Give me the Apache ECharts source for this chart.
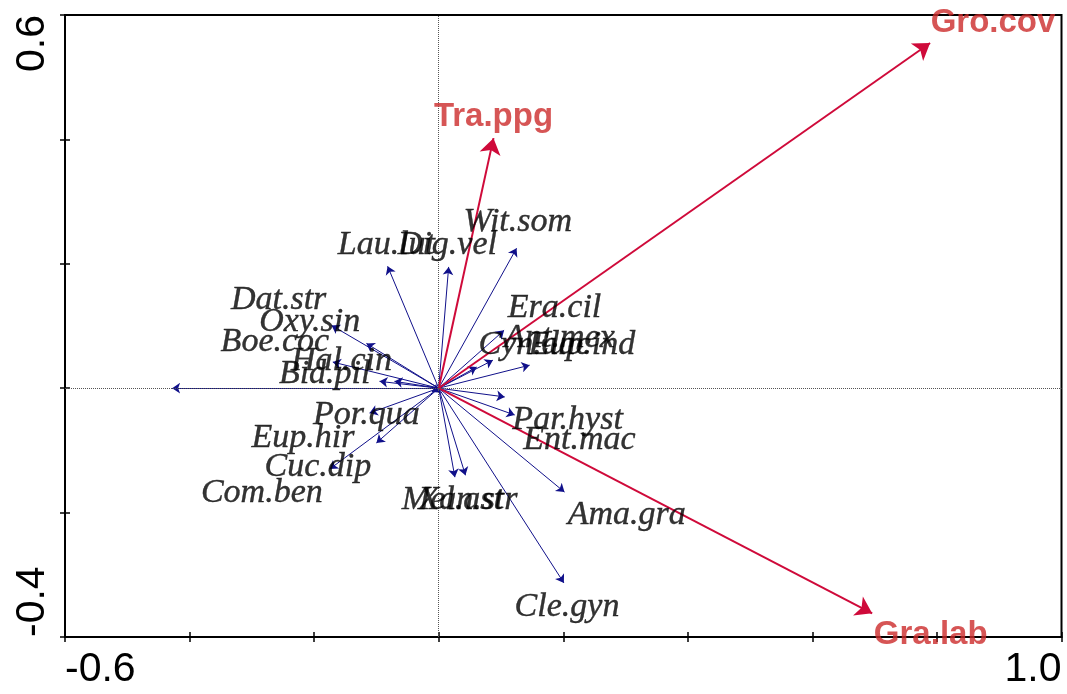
<!DOCTYPE html>
<html>
<head>
<meta charset="utf-8">
<script src="https://cdn.jsdelivr.net/npm/echarts@6/dist/echarts.min.js"></script>
<style>
html,body{margin:0;padding:0;background:#fff;}
#chart{width:1067px;height:694px;}
</style>
</head>
<body>
<div id="chart"></div>
<script>
// Species arrow tips (biplot scores)
const speciesX = [-0.172, -0.116, -0.170, -0.095, -0.071, -0.428, -0.082, 0.016, 0.125,
                  0.146, 0.087, 0.061, 0.105, 0.106, 0.122, 0.202, 0.201, 0.026, 0.043,
                  -0.111, -0.100, -0.175, -0.011];
const speciesY = [0.101, 0.072, 0.042, 0.011, 0.011, 0.000, 0.196, 0.195, 0.225,
                  0.037, 0.045, 0.034, 0.093, -0.014, -0.043, -0.167, -0.313, -0.143, -0.140,
                  -0.040, -0.088, -0.130, -0.006];
// Species labels and where they sit
const speciesNames = ['Dat.str','Oxy.sin','Boe.coc','Hal.cin','Bid.pil','Lau.lut','Dig.vel','Wit.som',
                      'Era.cil','Ant.mex','Cyn.dac','Eup.ind','Par.hyst','Ent.mac','Ama.gra','Cle.gyn',
                      'Mel.ast','Xan.str','Por.qua','Eup.hir','Cuc.dip','Com.ben'];
const speciesLabelX = [-0.257, -0.207, -0.263, -0.156, -0.183, -0.084, 0.014, 0.127,
                       0.186, 0.194, 0.154, 0.230, 0.207, 0.226, 0.302, 0.206,
                       0.022, 0.047, -0.116, -0.218, -0.194, -0.284];
const speciesLabelY = [0.141, 0.106, 0.074, 0.043, 0.023, 0.230, 0.230, 0.267,
                       0.129, 0.080, 0.069, 0.069, -0.051, -0.084, -0.204, -0.352,
                       -0.180, -0.180, -0.043, -0.080, -0.127, -0.169];
// Environmental variables
const envNames = ['Gro.cov','Tra.ppg','Gra.lab'];
const envX = [0.789, 0.088, 0.696];
const envY = [0.555, 0.402, -0.362];
const envLabelX = [0.890, 0.088, 0.790];
const envLabelY = [0.588, 0.436, -0.396];
// Axis tick labels (only extremes are labelled)
const xTickValues = [-0.6, 1.0];
const xTickLabels = ['-0.6', '1.0'];
const yTickValues = [-0.4, 0.6];
const yTickLabels = ['-0.4', '0.6'];

function tickFmt(values, labels) {
  return function (v) {
    for (let i = 0; i < values.length; i++) {
      if (Math.abs(v - values[i]) < 1e-6) return labels[i];
    }
    return '';
  };
}

const chart = echarts.init(document.getElementById('chart'), null, {renderer: 'canvas'});
const axisBase = {
  type: 'value', interval: 0.2,
  splitLine: {show: false}
};
const option = {
  animation: false,
  backgroundColor: '#fff',
  grid: {left: 65, right: 5.5, top: 15, bottom: 57, show: true, borderColor: '#000', borderWidth: 2},
  xAxis: [
    Object.assign({}, axisBase, {
      min: -0.6, max: 1.0, position: 'bottom',
      axisLine: {show: true, onZero: false, lineStyle: {color: '#000', width: 2}},
      axisTick: {show: true, length: 5, lineStyle: {color: '#000', width: 1.5}},
      axisLabel: {show: true, formatter: tickFmt(xTickValues, xTickLabels), color: '#000',
        fontFamily: 'Liberation Sans', fontSize: 41, margin: 12,
        alignMinLabel: 'left', alignMaxLabel: 'right', showMinLabel: true, showMaxLabel: true}
    }),
    Object.assign({}, axisBase, {
      min: -0.6, max: 1.0, position: 'bottom',
      axisLine: {show: false, onZero: false},
      axisTick: {show: true, inside: true, length: 5, lineStyle: {color: '#000', width: 1.5}},
      axisLabel: {show: false}
    })
  ],
  yAxis: [
    Object.assign({}, axisBase, {
      min: -0.4, max: 0.6, position: 'left',
      axisLine: {show: true, onZero: false, lineStyle: {color: '#000', width: 2}},
      axisTick: {show: true, length: 5, lineStyle: {color: '#000', width: 1.5}},
      axisLabel: {show: true, formatter: tickFmt(yTickValues, yTickLabels), color: '#000',
        fontFamily: 'Liberation Sans', fontSize: 41, margin: 12, rotate: 90,
        alignMinLabel: 'left', alignMaxLabel: 'right', showMinLabel: true, showMaxLabel: true}
    }),
    Object.assign({}, axisBase, {
      min: -0.4, max: 0.6, position: 'left',
      axisLine: {show: false, onZero: false},
      axisTick: {show: true, inside: true, length: 5, lineStyle: {color: '#000', width: 1.5}},
      axisLabel: {show: false}
    })
  ],
  series: [
    {
      type: 'line', data: [], silent: true,
      markLine: {
        silent: true, symbol: ['none', 'none'], label: {show: false},
        lineStyle: {color: '#555', type: 'dotted', width: 1},
        data: [{xAxis: 0}, {yAxis: 0}]
      }
    },
    {
      type: 'lines', coordinateSystem: 'cartesian2d', silent: true, z: 3,
      symbol: ['none', 'arrow'], symbolSize: 8,
      lineStyle: {color: '#10108a', width: 1, opacity: 1},
      data: speciesX.map((x, i) => ({coords: [[0, 0], [x, speciesY[i]]]}))
    },
    {
      type: 'lines', coordinateSystem: 'cartesian2d', silent: true, z: 4,
      symbol: ['none', 'arrow'], symbolSize: 16,
      lineStyle: {color: '#cf0a3a', width: 2, opacity: 1},
      data: envX.map((x, i) => ({coords: [[0, 0], [x, envY[i]]]}))
    },
    {
      type: 'scatter', silent: true, symbolSize: 0, z: 5,
      data: speciesNames.map((n, i) => ({name: n, value: [speciesLabelX[i], speciesLabelY[i]]})),
      label: {show: true, position: 'inside', formatter: '{b}', color: '#000',
        fontFamily: 'Liberation Serif', fontStyle: 'italic', fontSize: 34,
        textBorderColor: '#000', textBorderWidth: 0.4}
    },
    {
      type: 'scatter', silent: true, symbolSize: 0, z: 6,
      data: envNames.map((n, i) => ({name: n, value: [envLabelX[i], envLabelY[i]]})),
      label: {show: true, position: 'inside', formatter: '{b}', color: '#cc2a2a',
        fontFamily: 'Liberation Sans', fontWeight: 'bold', fontSize: 33}
    }
  ]
};
chart.setOption(option);
</script>
</body>
</html>
